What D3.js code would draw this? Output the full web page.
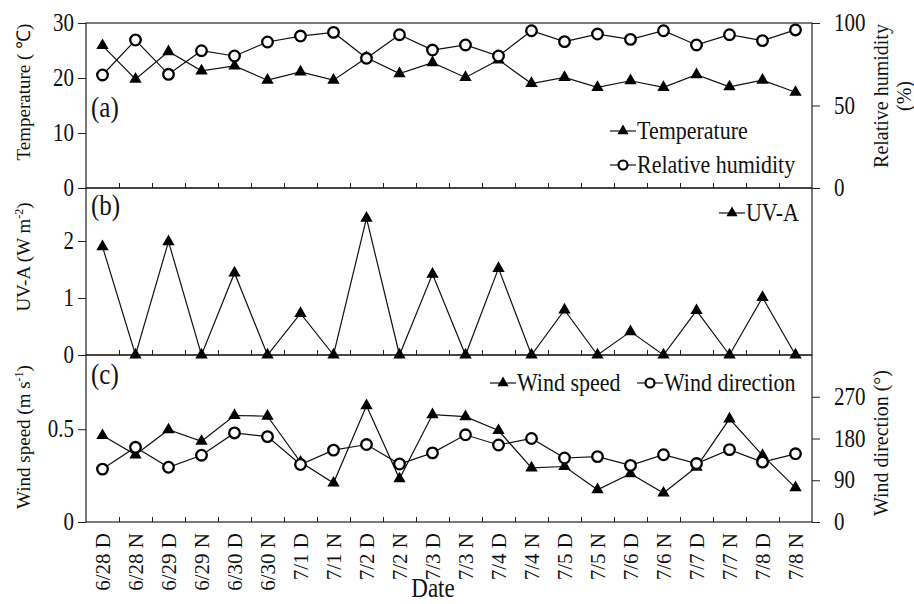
<!DOCTYPE html>
<html lang="en">
<head>
  <meta charset="utf-8">
  <title>Weather panels</title>
  <style>
    body { margin: 0; background: #fff; }
    svg text { font-family: "Liberation Serif", "Times New Roman", serif; fill: #111; }
  </style>
</head>
<body>
  <script src="https://cdn.jsdelivr.net/npm/d3@7/dist/d3.min.js"></script>
  <script>
    // values
    var dates = ["6/28 D", "6/28 N", "6/29 D", "6/29 N", "6/30 D", "6/30 N", "7/1 D", "7/1 N",
      "7/2 D", "7/2 N", "7/3 D", "7/3 N", "7/4 D", "7/4 N", "7/5 D", "7/5 N",
      "7/6 D", "7/6 N", "7/7 D", "7/7 N", "7/8 D", "7/8 N"];
    var temperature = [25.9, 19.8, 24.8, 21.3, 22.2, 19.6, 21.1, 19.6, 23.7, 20.8, 22.8,
      20.1, 23.3, 19.0, 20.1, 18.3, 19.5, 18.3, 20.6, 18.4, 19.6, 17.4];
    var humidity = [68.5, 89.7, 68.9, 83.2, 80.0, 88.5, 92.1, 94.3, 78.6, 92.9, 83.6,
      86.7, 80.0, 95.3, 88.7, 93.3, 90.1, 95.3, 86.7, 92.9, 89.3, 95.8];
    var uva = [1.90, 0, 1.99, 0, 1.44, 0, 0.73, 0, 2.40, 0, 1.42, 0, 1.52, 0, 0.79, 0,
      0.41, 0, 0.78, 0, 1.01, 0];
    var windSpeed = [0.466, 0.362, 0.497, 0.435, 0.574, 0.570, 0.323, 0.210, 0.627, 0.233, 0.579,
      0.568, 0.493, 0.292, 0.299, 0.174, 0.260, 0.156, 0.296, 0.556, 0.359, 0.185];
    var windDir = [114, 161, 118, 144, 192, 184, 124, 155, 167, 125, 149,
      188, 166, 180, 138, 141, 122, 145, 126, 156, 129, 147];

    var tempTicks = [0, 10, 20, 30];
    var rhTicks = [0, 50, 100];
    var uvTicks = [0, 1, 2];
    var speedTicks = [0, 0.5];
    var dirTicks = [0, 90, 180, 270];

    var left = 86, right = 812;
    var panelA = { top: 23, bottom: 188 };
    var panelB = { top: 188, bottom: 355 };
    var panelC = { top: 355, bottom: 522 };

    // the source figure is a little stretched vertically
    var stretch = "scale(1,1.15)";

    var svg = d3.select("body").append("svg")
      .attr("width", 914)
      .attr("height", 604);

    var x = d3.scaleBand().domain(dates).range([left, right]);
    var xEdge = d3.scaleLinear().domain([0, dates.length]).range([left, right]);
    function cx(d, i) { return x(dates[i]) + x.bandwidth() / 2; }

    var yTemp = d3.scaleLinear().domain([0, 30]).range([panelA.bottom, panelA.top]);
    var yRH = d3.scaleLinear().domain([0, 100]).range([panelA.bottom, panelA.top]);
    var yUV = d3.scaleLinear().domain([0, 2.93]).range([panelB.bottom, panelB.top]);
    var ySpeed = d3.scaleLinear().domain([0, 0.9]).range([panelC.bottom, panelC.top]);
    var yDir = d3.scaleLinear().domain([0, 360]).range([panelC.bottom, panelC.top]);

    var triangle = d3.symbol().type(d3.symbolTriangle).size(66);
    var triangleSmall = d3.symbol().type(d3.symbolTriangle).size(54);

    function frame(p) {
      svg.append("rect")
        .attr("x", left).attr("y", p.top)
        .attr("width", right - left).attr("height", p.bottom - p.top)
        .attr("fill", "none").attr("stroke", "#222").attr("stroke-width", 1.2);

      svg.append("g")
        .attr("transform", "translate(0," + p.bottom + ")")
        .call(d3.axisBottom(xEdge).tickValues(d3.range(1, dates.length)).tickSize(-5).tickFormat(""))
        .call(function(g) { g.select(".domain").remove(); })
        .selectAll("line").attr("stroke", "#222");
    }

    function leftAxis(scale, ticks, fmt) {
      var g = svg.append("g")
        .attr("transform", "translate(" + left + ",0)")
        .call(d3.axisLeft(scale).tickValues(ticks).tickSize(8).tickPadding(4).tickFormat(fmt || d3.format("")));
      g.select(".domain").remove();
      g.selectAll("line").attr("stroke", "#222");
      g.selectAll("text").attr("font-size", 21).attr("font-family", null).attr("transform", stretch);
    }

    function rightAxis(scale, ticks) {
      var g = svg.append("g")
        .attr("transform", "translate(" + right + ",0)")
        .call(d3.axisRight(scale).tickValues(ticks).tickSize(8).tickPadding(14).tickFormat(d3.format("")));
      g.select(".domain").remove();
      g.selectAll("line").attr("stroke", "#222");
      g.selectAll("text").attr("font-size", 21).attr("font-family", null).attr("transform", stretch);
    }

    function lineSeries(values, yScale) {
      svg.append("path")
        .datum(values)
        .attr("fill", "none")
        .attr("stroke", "#111")
        .attr("stroke-width", 1.2)
        .attr("d", d3.line().x(cx).y(function(d) { return yScale(d); }));
    }

    function triangles(values, yScale) {
      svg.append("g").selectAll("path")
        .data(values)
        .enter().append("path")
        .attr("d", triangle)
        .attr("fill", "#000")
        .attr("transform", function(d, i) {
          return "translate(" + cx(d, i) + "," + yScale(d) + ")";
        });
    }

    function circles(values, yScale) {
      svg.append("g").selectAll("circle")
        .data(values)
        .enter().append("circle")
        .attr("cx", cx)
        .attr("cy", function(d) { return yScale(d); })
        .attr("r", 5.3)
        .attr("fill", "#fff")
        .attr("stroke", "#000")
        .attr("stroke-width", 2.3);
    }

    function flatText(xPos, yPos, size, label) {
      return svg.append("text")
        .attr("transform", "translate(" + xPos + "," + yPos + ") " + stretch)
        .attr("font-size", size)
        .text(label);
    }

    function legendItem(xPos, yPos, kind, label) {
      svg.append("line")
        .attr("x1", xPos).attr("x2", xPos + 26)
        .attr("y1", yPos).attr("y2", yPos)
        .attr("stroke", "#111").attr("stroke-width", 1.2);
      if (kind == "tri") {
        svg.append("path").attr("d", triangleSmall).attr("fill", "#000")
          .attr("transform", "translate(" + (xPos + 13) + "," + yPos + ")");
      } else {
        svg.append("circle").attr("cx", xPos + 13).attr("cy", yPos).attr("r", 4.5)
          .attr("fill", "#fff").attr("stroke", "#000").attr("stroke-width", 2.2);
      }
      flatText(xPos + 27, yPos, 22, label).attr("dy", "0.33em");
    }

    function rotatedTitle(xPos, yPos, label, size) {
      return svg.append("text")
        .attr("transform", "translate(" + xPos + "," + yPos + ") rotate(-90)")
        .attr("text-anchor", "middle")
        .attr("font-size", size || 19)
        .text(label);
    }

    // frames and axes
    frame(panelA);
    frame(panelB);
    frame(panelC);

    leftAxis(yTemp, tempTicks);
    rightAxis(yRH, rhTicks);
    leftAxis(yUV, uvTicks);
    leftAxis(ySpeed, speedTicks, function(d) { return d == 0 ? "0" : d3.format(".1f")(d); });
    rightAxis(yDir, dirTicks);

    // (a) temperature and humidity
    lineSeries(temperature, yTemp);
    lineSeries(humidity, yRH);
    triangles(temperature, yTemp);
    circles(humidity, yRH);

    // (b) UV-A
    lineSeries(uva, yUV);
    triangles(uva, yUV);

    // (c) wind
    lineSeries(windSpeed, ySpeed);
    lineSeries(windDir, yDir);
    triangles(windSpeed, ySpeed);
    circles(windDir, yDir);

    // panel letters
    flatText(91, 117, 25, "(a)");
    flatText(91, 215, 25, "(b)");
    flatText(91, 384, 25, "(c)");

    // legends
    legendItem(610, 131, "tri", "Temperature");
    legendItem(610, 165, "circ", "Relative humidity");
    legendItem(719, 213, "tri", "UV-A");
    legendItem(490, 383, "tri", "Wind speed");
    legendItem(637, 383, "circ", "Wind direction");

    // x labels
    var xg = svg.append("g")
      .attr("transform", "translate(0," + panelC.bottom + ")")
      .call(d3.axisBottom(x).tickSize(0));
    xg.select(".domain").remove();
    xg.selectAll("text")
      .attr("font-family", null)
      .attr("font-size", 21)
      .attr("x", -11)
      .attr("y", 0)
      .attr("dy", "0.35em")
      .attr("transform", "rotate(-90)")
      .style("text-anchor", "end");

    flatText(433, 597, 23, "Date").attr("text-anchor", "middle");

    // axis titles
    rotatedTitle(30, 92, "Temperature ( \u2103)");
    var uvTitle = rotatedTitle(30, 257, "UV-A (W m");
    uvTitle.append("tspan").attr("baseline-shift", "super").attr("font-size", 12).text("-2");
    uvTitle.append("tspan").text(")");
    var wsTitle = rotatedTitle(30, 437, "Wind speed (m s");
    wsTitle.append("tspan").attr("baseline-shift", "super").attr("font-size", 12).text("-1");
    wsTitle.append("tspan").text(")");

    rotatedTitle(888, 96, "Relative humidity", 20);
    rotatedTitle(911, 96, "(%)", 20);
    rotatedTitle(888, 443, "Wind direction (\u00b0)", 20);
  </script>
</body>
</html>
